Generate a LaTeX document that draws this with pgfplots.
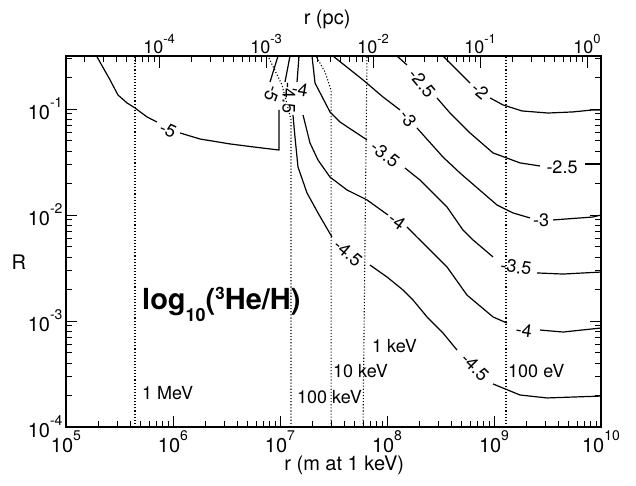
\documentclass[border=0pt]{standalone}
\usepackage{pgfplots}
\pgfplotsset{compat=1.18}
\usepackage{fontspec}
\setmainfont{TeX Gyre Heros}
\newcommand{\tb}[1]{10\raisebox{12pt}{\fontsize{14}{14}\selectfont #1}}
\newcommand{\tp}[1]{10\raisebox{10.5pt}{\fontsize{13}{13}\selectfont #1}}
\tikzset{
 cl/.style={black, line width=1.2pt, line join=round},
 en/.style={black, line width=1.1pt, dash pattern=on 1.1pt off 2pt},
 lab/.style={font=\fontsize{18}{20}\selectfont, inner sep=0pt},
 elab/.style={font=\fontsize{18}{20}\selectfont, inner sep=0pt, anchor=base west},
}
\begin{document}
\begin{tikzpicture}
\useasboundingbox (-66pt,-58pt) rectangle (570pt,427pt);
\begin{axis}[
 at={(0pt,0pt)}, anchor=south west, scale only axis, width=535pt, height=371pt,
 xmode=log, ymode=log, xmin=1e5, xmax=1e10, ymin=1e-4, ymax=0.316,
 xtick={1e5,1e6,1e7,1e8,1e9,1e10},
 xticklabels={\tb{5},\tb{6},\tb{7},\tb{8},\tb{9},\tb{10}},
 minor xtick={2e5,3e5,4e5,5e5,6e5,7e5,8e5,9e5,2e6,3e6,4e6,5e6,6e6,7e6,8e6,9e6,2e7,3e7,4e7,5e7,6e7,7e7,8e7,9e7,2e8,3e8,4e8,5e8,6e8,7e8,8e8,9e8,2e9,3e9,4e9,5e9,6e9,7e9,8e9,9e9},
 ytick={1e-4,1e-3,1e-2,1e-1},
 yticklabels={\tb{-4},\tb{-3},\tb{-2},\tb{-1}},
 minor ytick={2e-4,3e-4,4e-4,5e-4,6e-4,7e-4,8e-4,9e-4,2e-3,3e-3,4e-3,5e-3,6e-3,7e-3,8e-3,9e-3,2e-2,3e-2,4e-2,5e-2,6e-2,7e-2,8e-2,9e-2,2e-1,3e-1},
 xtick pos=left, xticklabel pos=left, ytick pos=both, yticklabel pos=left,
 tick align=inside, major tick length=11pt, minor tick length=6pt,
 every tick/.style={black, line width=0.9pt},
 axis line style={line width=1.3pt},
 ticklabel style={font=\fontsize{20}{24}\selectfont},
 xlabel={r (m at 1 keV)}, ylabel={R},
 label style={font=\fontsize{20}{24}\selectfont},
 xlabel style={at={(axis description cs:0.52,-0.116)}, anchor=base},
 ylabel style={at={(axis description cs:-0.088,0.445)}, anchor=center, rotate=-90},
]
% energy lines
\addplot[en] coordinates {(4.415e5,1e-4) (4.415e5,0.316)};
\addplot[en] coordinates {(1.268e7,1e-4) (1.268e7,0.0787) (1.045e7,0.1683) (7.72e6,0.316)};
\addplot[en] coordinates {(3.0e7,1e-4) (3.0e7,0.151) (2.635e7,0.2234) (2.168e7,0.316)};
\addplot[en] coordinates {(5.97e7,1e-4) (6.50e7,0.316)};
\addplot[en] coordinates {(1.294e9,1e-4) (1.294e9,0.316)};
% -5
\addplot[cl] coordinates {(1.93e5,0.316) (2.58e5,0.1879) (3.06e5,0.1355) (3.72e5,0.114) (4.42e5,0.1021) (5.71e5,0.0842) (7.08e5,0.0753)};
\addplot[cl] coordinates {(1.162e6,0.0594) (1.788e6,0.0521) (3.41e6,0.0468) (5.59e6,0.0439) (9.79e6,0.0410) (9.79e6,0.098)};
\addplot[cl] coordinates {(8.07e6,0.1799) (9.58e6,0.316)};
% -4.5
\addplot[cl] coordinates {(1.114e7,0.1799) (1.24e7,0.316)};
\addplot[cl] coordinates {(1.322e7,0.0877) (1.380e7,0.0545) (1.472e7,0.0284) (1.787e7,0.01615) (2.265e7,0.01045) (3.06e7,0.00619)};
\addplot[cl] coordinates {(6.93e7,0.003373) (1.0e8,0.0026) (1.413e8,0.001959) (1.75e8,0.001578) (2.366e8,0.001092) (3.335e8,0.000771) (4.51e8,0.000532)};
\addplot[cl] coordinates {(9.79e8,0.0002547) (1.75e9,0.0002004) (3.13e9,0.000188) (1e10,0.0001959)};
% -4
\addplot[cl] coordinates {(1.442e7,0.1799) (1.506e7,0.316)};
\addplot[cl] coordinates {(1.641e7,0.0877) (1.906e7,0.0478) (2.265e7,0.0330) (2.93e7,0.0228) (4.23e7,0.01722) (6.50e7,0.01387) (1.021e8,0.0100)};
\addplot[cl] coordinates {(1.538e8,0.00771) (1.905e8,0.00619) (2.523e8,0.00468) (3.64e8,0.00323) (5.59e8,0.001757) (9.79e8,0.001092) (1.321e9,0.000957)};
\addplot[cl] coordinates {(2.69e9,0.000822) (4.42e9,0.000787) (1e10,0.000859)};
% -3.5
\addplot[cl] coordinates {(1.991e7,0.316) (2.124e7,0.1758) (2.93e7,0.0938) (3.64e7,0.0753) (6.50e7,0.0511)};
\addplot[cl] coordinates {(1.472e8,0.02773) (2.032e8,0.02138) (3.64e8,0.01188) (5.13e8,0.00721) (6.37e8,0.00581) (9.79e8,0.00402)};
\addplot[cl] coordinates {(2.523e9,0.00284) (4.42e9,0.002773) (1e10,0.002897)};
% -3
\addplot[cl] coordinates {(3.126e7,0.316) (5.97e7,0.1879) (9.18e7,0.1297) (1.322e8,0.0980)};
\addplot[cl] coordinates {(1.905e8,0.0662) (3.335e8,0.0352) (4.81e8,0.02489) (1.067e9,0.01242) (1.506e9,0.01045) (2.168e9,0.00938)};
\addplot[cl] coordinates {(3.56e9,0.00898) (8.41e9,0.00957) (1e10,0.0100)};
% -2.5
\addplot[cl] coordinates {(1.239e8,0.316) (1.538e8,0.260)};
\addplot[cl] coordinates {(2.93e8,0.1271) (3.88e8,0.0916) (5.97e8,0.0594) (9.79e8,0.0385) (1.75e9,0.0310) (2.69e9,0.0290)};
\addplot[cl] coordinates {(7.08e9,0.0303) (1e10,0.0303)};
% -2
\addplot[cl] coordinates {(3.335e8,0.316) (5.97e8,0.1758)};
\addplot[cl] coordinates {(9.18e8,0.1271) (1.213e9,0.1092) (1.828e9,0.0958) (3.20e9,0.0916) (5.47e9,0.0938) (8.41e9,0.0980) (1e10,0.098)};
% contour labels
\node[lab, rotate=-25] at (axis cs:8.98e5,0.0634) {-5};
\node[lab, rotate=-110] at (axis cs:8.41e6,0.1387) {-5};
\node[lab, rotate=-90] at (axis cs:1.213e7,0.1271) {-4.5};
\node[lab, rotate=-10] at (axis cs:1.538e7,0.151) {-4};
\node[lab, rotate=-40] at (axis cs:4.32e7,0.00439) {-4.5};
\node[lab, rotate=-45] at (axis cs:6.64e8,0.000368) {-4.5};
\node[lab, rotate=-35] at (axis cs:1.239e8,0.00877) {-4};
\node[lab, rotate=-8] at (axis cs:1.905e9,0.000822) {-4};
\node[lab, rotate=-38] at (axis cs:9.58e7,0.0376) {-3.5};
\node[lab, rotate=-8] at (axis cs:1.607e9,0.00323) {-3.5};
\node[lab, rotate=-55] at (axis cs:1.571e8,0.0805) {-3};
\node[lab] at (axis cs:2.75e9,0.00898) {-3};
\node[lab, rotate=-50] at (axis cs:2.123e8,0.1758) {-2.5};
\node[lab] at (axis cs:4.32e9,0.0284) {-2.5};
\node[lab, rotate=-40] at (axis cs:7.40e8,0.148) {-2};
% energy labels
\node[elab] at (axis cs:5.13e5,0.000180) {1 MeV};
\node[elab] at (axis cs:1.442e7,0.000165) {100 keV};
\node[elab] at (axis cs:3.126e7,0.00029) {10 keV};
\node[elab] at (axis cs:7.24e7,0.00051) {1 keV};
\node[elab] at (axis cs:1.352e9,0.00029) {100 eV};
% title
\node[anchor=base west, inner sep=0pt, font=\fontsize{29}{32}\selectfont\bfseries] at (axis cs:5.13e5,0.00127)
 {log\raisebox{-12pt}{\fontsize{18}{18}\selectfont\bfseries 10}(\raisebox{10pt}{\fontsize{17}{17}\selectfont\bfseries 3}He/H)};
\end{axis}
\begin{axis}[
 at={(0pt,0pt)}, anchor=south west, scale only axis, width=535pt, height=371pt,
 xmode=log, xmin=1.35e-5, xmax=1.35, ymin=0, ymax=1,
 axis x line*=top, axis y line=none,
 xtick={1e-4,1e-3,1e-2,1e-1,1},
 xticklabels={\tp{-4},\tp{-3},\tp{-2},\tp{-1},\tp{0}},
 minor xtick={2e-5,3e-5,4e-5,5e-5,6e-5,7e-5,8e-5,9e-5,2e-4,3e-4,4e-4,5e-4,6e-4,7e-4,8e-4,9e-4,2e-3,3e-3,4e-3,5e-3,6e-3,7e-3,8e-3,9e-3,2e-2,3e-2,4e-2,5e-2,6e-2,7e-2,8e-2,9e-2,2e-1,3e-1,4e-1,5e-1,6e-1,7e-1,8e-1,9e-1},
 tick align=inside, major tick length=12pt, minor tick length=6pt,
 every tick/.style={black, line width=0.9pt},
 axis line style={line width=1.3pt},
 xticklabel style={font=\fontsize{18}{20}\selectfont, inner sep=2pt},
 xlabel={r (pc)},
 xlabel style={font=\fontsize{20}{24}\selectfont, at={(axis description cs:0.488,1.086)}, anchor=base},
]
\addplot[draw=none] coordinates {(1e-3,0.5)};
\end{axis}
\end{tikzpicture}
\end{document}
